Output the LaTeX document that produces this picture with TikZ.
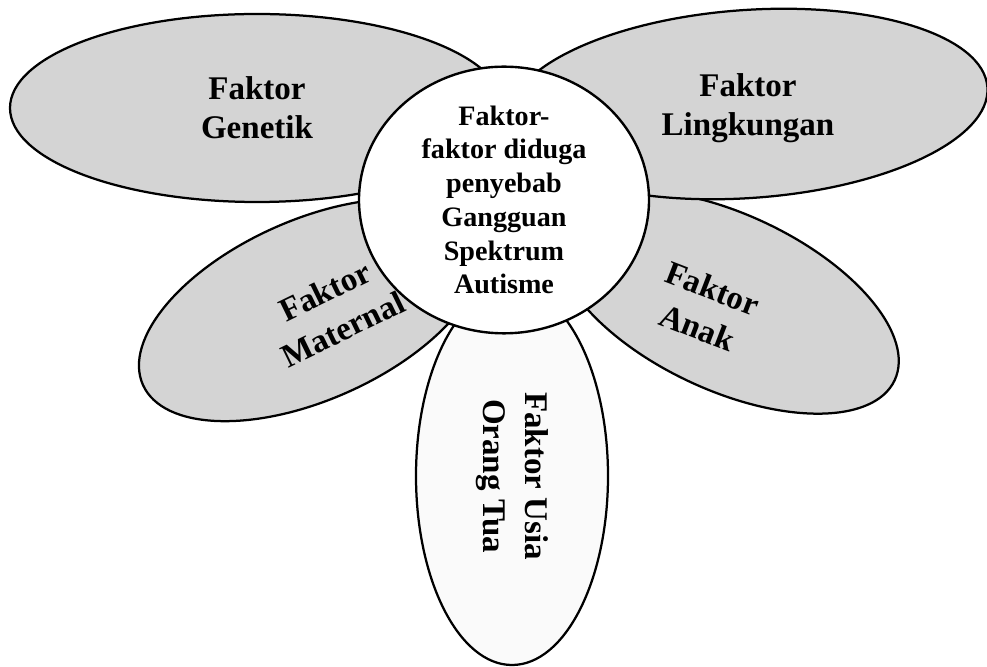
\documentclass[tikz,border=0pt]{standalone}
\usepackage{fontspec}
\setmainfont{Liberation Serif}
\usetikzlibrary{shapes.geometric}

\begin{document}
\begin{tikzpicture}[
    every node/.style={font=\fontsize{23.5}{28}\selectfont\bfseries, align=center},
    petal/.style={ellipse, draw=black, line width=1.6pt, fill=#1, inner sep=0pt},
    petal/.default={black!17},
    tilted/.style={rotate=#1, font=\fontsize{23.5}{30}\selectfont\bfseries},
    hub/.style={ellipse, draw=black, line width=1.7pt, fill=white,
                minimum width=7.25cm, minimum height=6.4cm, inner sep=0pt,
                font=\fontsize{20}{24}\selectfont\bfseries},
  ]
    % canvas: 987 x 666 px, 1px = 0.025cm
    \useasboundingbox (0,0) rectangle (24.675,16.65);

    % Petals, back to front
    \node[petal=black!2, minimum width=9.45cm, minimum height=4.8cm, tilted=-90]
      (usia) at (12.8,4.75) {Faktor Usia\\Orang Tua};
    \node[petal, minimum width=9.2cm, minimum height=4.5cm, rotate=24]
      (maternal) at (7.775,8.9) {};
    \node[petal, minimum width=9.25cm, minimum height=4.4cm, rotate=-25]
      (anak) at (18.175,9.1) {};
    \node[petal, minimum width=12.35cm, minimum height=4.7cm]
      (genetik) at (6.425,13.95) {Faktor\\Genetik};
    \node[petal, minimum width=12cm, minimum height=4.7cm, rotate=4]
      (lingkungan) at (18.7,14.05) {};

    % Labels of the petals
    \node (lingkungantxt) at (18.7,13.95) {Faktor\\Lingkungan};
    \node[tilted=26] (maternaltxt) at (8.35,8.9) {Faktor\\Maternal};
    \node[tilted=-21] (anaktxt) at (17.625,8.95) {Faktor\\Anak};

    % Centre of the flower
    \node[hub] (pusat) at (12.6,11.65)
      {Faktor-\\faktor diduga\\penyebab\\Gangguan\\Spektrum\\Autisme};

  \end{tikzpicture}
\end{document}
